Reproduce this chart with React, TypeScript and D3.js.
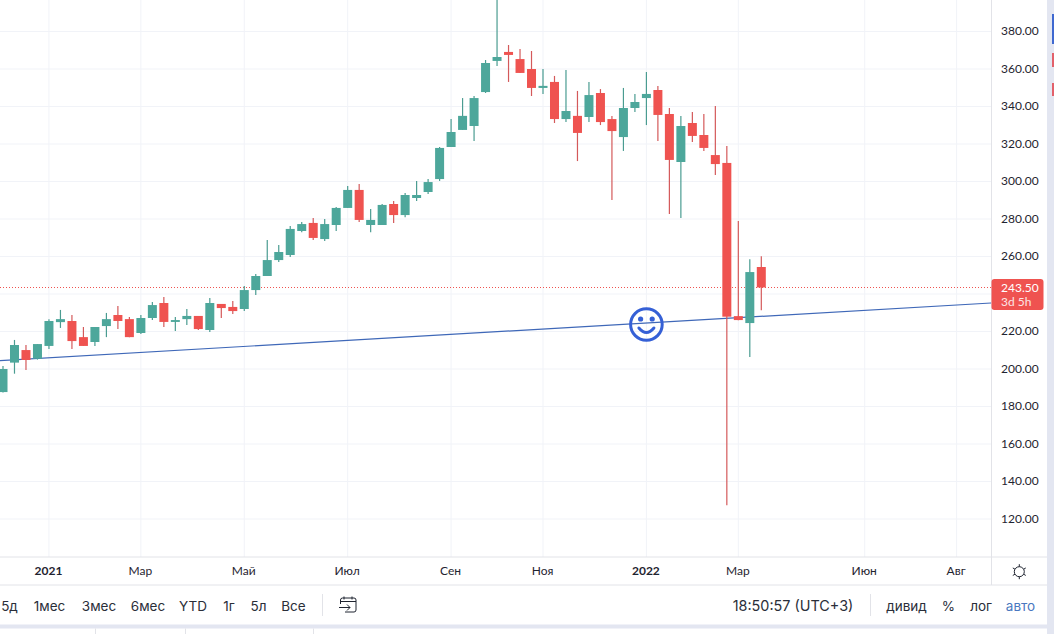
import { useEffect, useRef } from 'react'
import * as d3 from 'd3'

const WIDTH = 1054
const HEIGHT = 634

// weekly candles
const opens = [187.7, 203.4, 210.1, 205.5, 212.3, 225, 225.6, 217, 214.4, 222.9, 228.8, 226.6, 219.2, 227.2, 235.2, 225.1, 226.6, 228.3, 220.8, 234.7, 233.1, 232, 242.1, 249.6, 258.1, 260.8, 273.6, 277.9, 269.3, 276.8, 285.9, 295.5, 276.8, 276.8, 288, 282.1, 291.2, 294.4, 301.3, 318.4, 327.5, 329.6, 347.7, 364.3, 369.1, 365.3, 360, 349.9, 353.1, 333.3, 335, 334.4, 347.2, 333.3, 323.7, 339.2, 344.5, 348.8, 336, 310.4, 331.2, 324.8, 314.1, 309.9, 228.2, 224.5, 254.4]
const highs = [201.6, 215.5, 212.8, 213.3, 226.5, 231.5, 228.8, 222.4, 222.4, 229.9, 233.6, 227.7, 228.8, 235.7, 238.4, 227.7, 232, 228.3, 237.9, 234.7, 236.3, 244.3, 250.7, 268.8, 266.1, 276.3, 278.4, 280.5, 280, 286.4, 297.6, 298.7, 285.3, 288, 289.6, 293.9, 300.3, 301.3, 318.4, 333.3, 344.5, 345.6, 364.8, 396.8, 372.8, 370.7, 369.6, 360, 356.3, 359.5, 348.3, 353.1, 349.3, 335, 349.9, 346.7, 358.4, 351, 339.2, 335, 337.1, 336, 340.3, 318.9, 278.9, 258.6, 260.2]
const lows = [187.5, 197.5, 199.5, 205, 210.7, 221.9, 210.7, 212.3, 212.3, 217, 221.3, 217, 218.7, 226.1, 222.4, 220.3, 223.5, 220.8, 219.7, 227.2, 229.3, 230.9, 239.5, 249.6, 257.1, 259.7, 273, 268.8, 268.3, 273.6, 285.9, 278.4, 273, 276.8, 277.9, 281, 289.6, 293.3, 300.3, 318.4, 327.5, 321.6, 347.2, 361.6, 353.1, 357.9, 345.6, 346.7, 331.2, 331.7, 310.9, 331.7, 330.1, 290.1, 316.3, 337.1, 330.1, 321.6, 282.7, 280.5, 321.1, 316.3, 303.5, 127.3, 226, 206.4, 231.4]
const closes = [200, 212.8, 204.8, 213.3, 225.6, 226.6, 214.9, 212.3, 222.4, 226.6, 225.6, 217, 227.2, 234.1, 225.1, 226.1, 228.3, 221.3, 235.2, 232.5, 230.9, 242.1, 249.6, 258.1, 262.4, 274.7, 277.3, 269.9, 277.3, 285.9, 295.5, 279.5, 279.5, 287.5, 282.1, 292.8, 292.8, 299.7, 317.9, 326.4, 335, 344.5, 363.2, 366.4, 367.5, 357.9, 349.9, 351, 333.3, 337.6, 325.9, 346.1, 331.7, 326.9, 339.2, 342.4, 346.7, 335.5, 311.5, 329.6, 324.3, 317.9, 309.3, 227.9, 226.1, 251.7, 243.5]

const priceTicks = [120, 140, 160, 180, 200, 220, 240, 260, 280, 300, 320, 340, 360, 380]
// 240.00 sits under the last price label
const priceLabels = priceTicks.filter((d) => d !== 240)
const timeIdx = [4, 12, 21, 30, 39, 47, 56, 64, 75, 83]
const timeLabels = ['2021', 'Мар', 'Май', 'Июл', 'Сен', 'Ноя', '2022', 'Мар', 'Июн', 'Авг']
const boldLabels = ['2021', '2022']

const trendIdx = [-1, 86]
const trendPrice = [204.2, 235.2]
const lastPrice = 243.5

const rangeLabels = ['5д', '1мес', '3мес', '6мес', 'YTD', '1г', '5л', 'Все']
const rangeCenters = [9.5, 49.5, 99, 148, 193, 229, 258.5, 293.5]
const optionLabels = ['дивид', '%', 'лог', 'авто']
const optionCenters = [906.5, 948.5, 981, 1020.5]

const GREEN = '#4da79b'
const RED = '#ef5350'
const GREEN_WICK = '#4a9c91'
const RED_WICK = '#d4595a'
const GRID = '#f1f3f8'
const BORDER = '#e2e3e8'
const LAVENDER = '#e3e6f1'
const TEXT = '#1f2430'

export default function App() {
  const svgRef = useRef<SVGSVGElement>(null)

  useEffect(() => {
    const svg = d3.select(svgRef.current)
    svg.selectAll('*').remove()

    const axisX = 991.5
    const axisY = 557
    const x = d3.scaleLinear().domain([0, 66]).range([3, 761.3])
    const y = d3.scaleLinear().domain([120, 380]).range([519, 31.5])

    svg.append('rect').attr('width', WIDTH).attr('height', HEIGHT).attr('fill', '#fff')
    svg.append('defs').append('clipPath').attr('id', 'pane')
      .append('rect').attr('width', axisX).attr('height', axisY)

    const pane = svg.append('g').attr('clip-path', 'url(#pane)')

    // Grid
    pane.selectAll('.h').data(priceTicks).join('line')
      .attr('x1', 0).attr('x2', axisX)
      .attr('y1', (d) => y(d)).attr('y2', (d) => y(d))
      .attr('stroke', GRID)
    pane.selectAll('.v').data(timeIdx).join('line')
      .attr('x1', (d) => x(d)).attr('x2', (d) => x(d))
      .attr('y1', 0).attr('y2', axisY)
      .attr('stroke', GRID)

    // Last price line
    const lastY = Math.floor(y(lastPrice)) + 0.5
    pane.append('line')
      .attr('x1', 0).attr('x2', axisX)
      .attr('y1', lastY).attr('y2', lastY)
      .attr('stroke', RED).attr('stroke-dasharray', '1,2')

    // Trend line
    const trend = d3.line<number>()
      .x((d) => x(d))
      .y((_, i) => y(trendPrice[i]))
    pane.append('path')
      .attr('d', trend(trendIdx))
      .attr('fill', 'none')
      .attr('stroke', '#3f68b8')
      .attr('stroke-width', 1.2)

    // Candles
    const up = (i: number) => closes[i] >= opens[i]
    const candles = pane.selectAll('.c').data(opens).join('g')
    candles.append('line')
      .attr('x1', (_, i) => x(i)).attr('x2', (_, i) => x(i))
      .attr('y1', (_, i) => y(highs[i])).attr('y2', (_, i) => y(lows[i]))
      .attr('stroke', (_, i) => (up(i) ? GREEN_WICK : RED_WICK))
      .attr('stroke-width', 1.2)
    candles.append('rect')
      .attr('x', (_, i) => x(i) - 4.5)
      .attr('width', 9)
      .attr('y', (_, i) => y(Math.max(opens[i], closes[i])))
      .attr('height', (_, i) => Math.abs(y(opens[i]) - y(closes[i])))
      .attr('fill', (_, i) => (up(i) ? GREEN : RED))

    // Smiley on the trend line
    const smile = pane.append('g')
      .attr('transform', `translate(${x(56)},324.5)`)
      .attr('fill', 'none')
      .attr('stroke', '#3560d6')
      .attr('stroke-width', 3)
    smile.append('circle').attr('r', 15.8)
    smile.append('circle').attr('cx', -5.8).attr('cy', -5.5).attr('r', 2.6).attr('fill', '#3560d6').attr('stroke', 'none')
    smile.append('circle').attr('cx', 5.8).attr('cy', -5.5).attr('r', 2.6).attr('fill', '#3560d6').attr('stroke', 'none')
    smile.append('path').attr('d', 'M-7.5,3.5 Q0,12.5 7.5,3.5').attr('stroke-linecap', 'round')

    // Price axis
    const tickFont = 'Lato, sans-serif'
    const yAxis = svg.append('g')
      .attr('transform', `translate(${axisX},0)`)
      .call(d3.axisRight(y).tickValues(priceLabels).tickFormat(d3.format('.2f') as any).tickSize(0).tickPadding(9.5))
    yAxis.select('.domain').remove()
    yAxis.selectAll('text').attr('fill', TEXT).attr('font-size', 12).attr('font-family', tickFont).attr('dy', '0.27em')

    // Time axis
    const xAxis = svg.append('g')
      .attr('transform', `translate(0,${axisY})`)
      .call(d3.axisBottom(x).tickValues(timeIdx).tickFormat((_, i) => timeLabels[i]).tickSize(0).tickPadding(9))
    xAxis.select('.domain').remove()
    xAxis.selectAll('text')
      .attr('fill', TEXT).attr('font-size', 12).attr('font-family', tickFont)
      .attr('dx', -1)
      .attr('font-weight', (_, i) => (boldLabels.includes(timeLabels[i]) ? 700 : 400))

    // Pane borders
    svg.append('line').attr('x1', 0).attr('x2', 1047).attr('y1', axisY).attr('y2', axisY).attr('stroke', BORDER)
    svg.append('line').attr('x1', 0).attr('x2', 1047).attr('y1', 585).attr('y2', 585).attr('stroke', BORDER)
    svg.append('line').attr('x1', axisX).attr('x2', axisX).attr('y1', 0).attr('y2', 585).attr('stroke', BORDER)

    // Price label
    svg.append('rect')
      .attr('x', axisX).attr('y', 279).attr('width', 52).attr('height', 31).attr('rx', 3)
      .attr('fill', RED)
    svg.append('text').attr('x', 1001).attr('y', 291.5)
      .attr('fill', '#fff').attr('font-size', 12).attr('font-family', tickFont)
      .text(d3.format('.2f')(lastPrice))
    svg.append('text').attr('x', 1001).attr('y', 306)
      .attr('fill', '#fff').attr('font-size', 12).attr('font-family', tickFont).attr('opacity', 0.85)
      .text('3d 5h')

    // Settings sun icon
    const sun = svg.append('g').attr('transform', 'translate(1019.3,571.7)')
      .attr('fill', 'none').attr('stroke', TEXT)
    sun.append('circle').attr('r', 5)
    d3.range(0, 360, 60).forEach((a) => {
      const r = (a * Math.PI) / 180
      sun.append('line')
        .attr('x1', 5 * Math.sin(r)).attr('y1', -5 * Math.cos(r))
        .attr('x2', 7.5 * Math.sin(r)).attr('y2', -7.5 * Math.cos(r))
    })

    // Toolbar
    const barFont = 'Inter, sans-serif'
    const bar = svg.append('g').attr('font-family', barFont).attr('font-size', 13.5).attr('fill', '#2a2e39')
    bar.selectAll('.r').data(rangeLabels).join('text')
      .attr('x', (_, i) => rangeCenters[i]).attr('y', 610.5)
      .attr('text-anchor', 'middle')
      .text((d) => d)
    bar.selectAll('.o').data(optionLabels).join('text')
      .attr('x', (_, i) => optionCenters[i]).attr('y', 610.5)
      .attr('text-anchor', 'middle')
      .attr('fill', (d) => (d === 'авто' ? '#4a78c0' : '#2a2e39'))
      .text((d) => d)
    bar.append('text').attr('x', 793).attr('y', 610.5).attr('text-anchor', 'middle').attr('font-size', 14.4).text('18:50:57 (UTC+3)')

    svg.append('line').attr('x1', 322.5).attr('x2', 322.5).attr('y1', 594).attr('y2', 616).attr('stroke', BORDER)
    svg.append('line').attr('x1', 870.5).attr('x2', 870.5).attr('y1', 594).attr('y2', 616).attr('stroke', BORDER)

    // Go-to-date icon
    svg.append('path')
      .attr('d', 'M340.5,604 V600 a2,2 0 0 1 2,-2 H354 a2,2 0 0 1 2,2 V610 a2,2 0 0 1 -2,2 H345 M340.5,601.5 H356 M344,596.5 V599.5 M352,596.5 V599.5 M339,607.5 H350 M347,604.5 L350,607.5 L347,610.5')
      .attr('fill', 'none').attr('stroke', TEXT)

    // Surrounding page
    svg.append('rect').attr('x', 1047).attr('y', 0).attr('width', 7).attr('height', HEIGHT).attr('fill', LAVENDER)
    svg.append('rect').attr('x', 0).attr('y', 624.5).attr('width', WIDTH).attr('height', 4).attr('fill', LAVENDER)
    svg.append('rect').attr('x', 1052).attr('y', 14).attr('width', 2).attr('height', 30).attr('fill', '#3f68d0')
    svg.append('rect').attr('x', 1052).attr('y', 53).attr('width', 2).attr('height', 14).attr('fill', '#e2606a')
    svg.append('rect').attr('x', 1052).attr('y', 83).attr('width', 2).attr('height', 13).attr('fill', '#e2606a')
    ;[95, 185, 313].forEach((d) => {
      svg.append('line').attr('x1', d + 0.5).attr('x2', d + 0.5).attr('y1', 628.5).attr('y2', HEIGHT).attr('stroke', BORDER)
    })
  }, [])

  return (
    <svg
      ref={svgRef}
      width={WIDTH}
      height={HEIGHT}
      style={{ position: 'fixed', left: 0, top: 0, display: 'block' }}
    />
  )
}
